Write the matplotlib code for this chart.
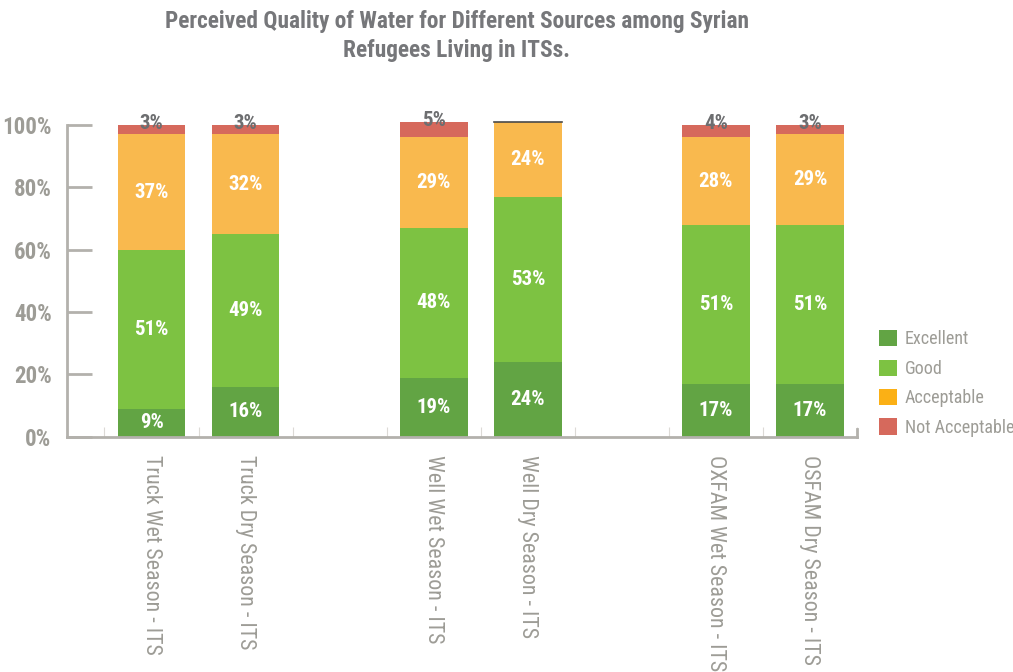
import matplotlib as mpl
import matplotlib.pyplot as plt
import numpy as np
from matplotlib import font_manager
from matplotlib.patches import Patch

mpl.use('Agg')

installed = {f.name for f in font_manager.fontManager.ttflist}
narrow = [f for f in ['Roboto Condensed', 'Archivo Narrow', 'Barlow Semi Condensed'] if f in installed]
plt.rcParams['font.family'] = narrow + ['DejaVu Sans']

categories = ['Truck Wet Season - ITS', 'Truck Dry Season - ITS',
              'Well Wet Season - ITS', 'Well Dry Season - ITS',
              'OXFAM Wet Season - ITS', 'OSFAM Dry Season - ITS']
slots = [0, 1, 3, 4, 6, 7]  # empty slot between each source group

excellent = [9, 16, 19, 24, 17, 17]
good = [51, 49, 48, 53, 51, 51]
acceptable = [37, 32, 29, 24, 28, 29]
not_acceptable = [3, 3, 5, 0, 4, 3]

series = ['Excellent', 'Good', 'Acceptable', 'Not Acceptable']
bar_colors = ['#62a444', '#7dc242', '#f9b94e', '#d6695c']
legend_colors = ['#62a444', '#7dc242', '#fbb015', '#d6695c']

grey = '#9d9c96'
title_grey = '#76777a'

fig = plt.figure(figsize=(10.13, 6.72), dpi=100)
ax = fig.add_axes([0.066, 0.350, 0.780, 0.464])

x = np.array(slots, dtype=float)
width = 0.72
bottom = np.zeros(len(x))
for name, vals, col in zip(series, [excellent, good, acceptable, not_acceptable], bar_colors):
    vals = np.array(vals, dtype=float)
    ax.bar(x, vals, width, bottom=bottom, color=col, clip_on=False, label=name)
    for xi, b, v in zip(x, bottom, vals):
        if v == 0:
            # zero share shows as a thin dark cap line
            ax.plot([xi - width / 2, xi + width / 2], [b, b], color='#4a4a4a', lw=1.2, clip_on=False)
            continue
        if name == 'Not Acceptable':
            ax.text(xi, b + v + 0.6, f'{int(v)}%', ha='center', va='center',
                    color='#6d6e70', fontsize=15, fontweight='bold', clip_on=False)
        else:
            ax.text(xi, b + v / 2, f'{int(v)}%', ha='center', va='center',
                    color='white', fontsize=15, fontweight='bold')
    bottom += vals

ax.set_xlim(-0.9, 7.5)
ax.set_ylim(0, 100)
ax.set_yticks([0, 20, 40, 60, 80, 100])
ax.set_yticklabels([f'{t}%' for t in [0, 20, 40, 60, 80, 100]])
ax.tick_params(axis='y', direction='in', length=18, width=2, color='#b3b1ac',
               labelsize=16.5, labelcolor=grey, pad=11)
for lab in ax.get_yticklabels():
    lab.set_fontweight('bold')

# faint category boundary ticks
ax.set_xticks(np.arange(-0.5, 7.6, 1.0))
ax.set_xticklabels([])
ax.tick_params(axis='x', direction='in', length=7, width=0.8, color='#dcdad6')
for xi, lab in zip(x, categories):
    ax.text(xi, -5.8, lab, rotation=270, ha='center', va='top', color=grey, fontsize=15.8)

for side in ['top', 'right']:
    ax.spines[side].set_visible(False)
for side in ['left', 'bottom']:
    ax.spines[side].set_color('#b3b1ac')
    ax.spines[side].set_linewidth(2)
ax.plot([7.5, 7.5], [0, 2.5], color='#b3b1ac', lw=2, clip_on=False)

handles = [Patch(facecolor=c, edgecolor='none') for c in legend_colors]
fig.legend(handles, series, loc='upper left', bbox_to_anchor=(0.852, 0.533),
           frameon=False, fontsize=13, labelcolor=grey, handlelength=1.0,
           handleheight=1.0, handletextpad=0.4, labelspacing=0.62)

fig.text(0.451, 0.985, 'Perceived Quality of Water for Different Sources among Syrian\nRefugees Living in ITSs.',
         ha='center', va='top', fontsize=16.8, fontweight='bold', color=title_grey,
         linespacing=1.35)

fig.savefig('out.png', dpi=100)
